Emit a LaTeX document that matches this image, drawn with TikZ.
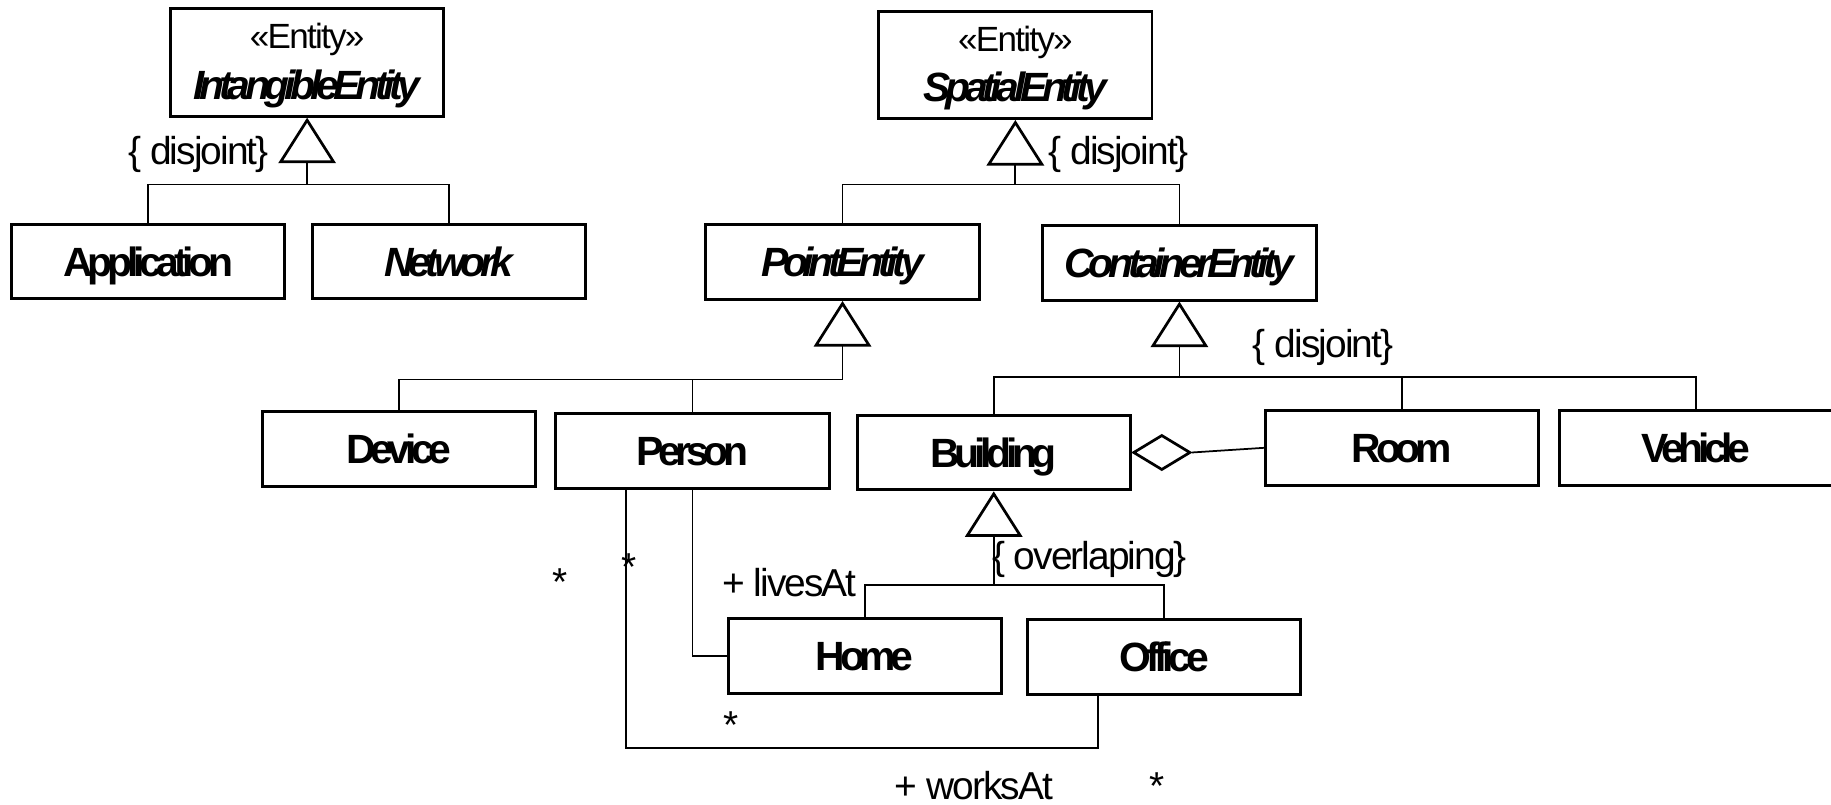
\documentclass[tikz,border=0pt]{standalone}
\usepackage{fontspec}
\setmainfont{Liberation Sans}[LetterSpace=-5]
\newfontfamily\classfont{Liberation Sans}[LetterSpace=-13]
\usetikzlibrary{arrows.meta,shapes.geometric,calc}

\begin{document}
\begin{tikzpicture}[x=0.6pt,y=-0.6pt,
  cls/.style={draw, line width=1.5pt, minimum width=140.4pt, minimum height=38.4pt,
    inner sep=0pt, text height=15pt, text depth=0pt,
    font=\classfont\fontsize{21}{23}\selectfont\bfseries},
  abs/.style={cls, font=\classfont\fontsize{21}{23}\selectfont\bfseries\itshape},
  ent/.style={draw, line width=1.5pt, minimum width=140.4pt, minimum height=55.2pt,
    inner sep=0pt, align=center, font=\fontsize{18}{26}\selectfont},
  link/.style={line width=0.9pt},
  gen/.style={link, -{Triangle[open, length=23.4pt, width=29.4pt, line width=1.4pt]}},
  lbl/.style={font=\fontsize{20}{22}\selectfont, inner sep=0pt, anchor=base},
]
\useasboundingbox (0,0) rectangle (1568,689);

% stereotyped root classes
\node[ent] (intang) at (263,53.5)
  {\rule{0pt}{16.5pt}«Entity»\\{\classfont\fontsize{21}{26}\selectfont\bfseries\itshape IntangibleEntity}};
\node[ent] (spatial) at (869.5,55.5)
  {\rule{0pt}{16.5pt}«Entity»\\{\classfont\fontsize{21}{26}\selectfont\bfseries\itshape SpatialEntity}};

% classes
\node[cls] (app)       at (127,224)      {Application};
\node[abs] (net)       at (384.5,224)    {Network};
\node[abs] (point)     at (721.5,224.5)  {PointEntity};
\node[abs] (container) at (1010,225)     {ContainerEntity};
\node[cls] (device)    at (341.5,384.5)  {Device};
\node[cls] (person)    at (593,386)      {Person};
\node[cls] (building)  at (851,387.5)    {Building};
\node[cls] (room)      at (1200.5,383.5) {Room};
\node[cls] (vehicle)   at (1452.5,383.5) {Vehicle};
\node[cls] (home)      at (740.5,561.5)  {Home};
\node[cls] (office)    at (997,562.5)    {Office};

% generalization junctions
\coordinate (j1) at (263,158);
\coordinate (j2) at (869.5,158);
\coordinate (j3) at (721.5,325);
\coordinate (j4) at (1010,323);
\coordinate (j5) at (851,501);

\draw[gen] (j1) -- (intang.south);
\draw[link] (app.north) |- (j1) -| (net.north);

\draw[gen] (j2) -- (spatial.south);
\draw[link] (point.north) |- (j2) -| (container.north);

\draw[gen] (j3) -- (point.south);
\draw[link] (device.north) |- (j3);
\draw[link] (person.north) -- (person.north |- j3);

\draw[gen] (j4) -- (container.south);
\draw[link] (building.north) |- (j4) -| (vehicle.north);
\draw[link] (room.north) -- (room.north |- j4);

\draw[gen] (j5) -- (building.south);
\draw[link] (home.north) |- (j5) -| (office.north);

% aggregation Building <>-- Room
\node[diamond, draw, line width=1.4pt, minimum width=29.4pt, minimum height=18pt,
  aspect=1.6, inner sep=0pt, anchor=west] (agg) at (building.east) {};
\draw[link] (agg.east) -- (room.west);

% associations
\draw[link] (person.south) |- (home.west);
\draw[link] ([xshift=-34.2pt]person.south) -- ++(0,221) -| ([xshift=-34.2pt]office.south);

% constraint and role labels
\node[lbl] (c1) at (170,141)  {\{ disjoint\}};
\node[lbl] (c2) at (958,141)  {\{ disjoint\}};
\node[lbl] (c3) at (1133,306) {\{ disjoint\}};
\node[lbl] (c4) at (933,488)  {\{ overlaping\}};
\node[lbl] (r1) at (676,511)  {+ livesAt};
\node[lbl] (r2) at (834,685)  {+ worksAt};
\node[lbl] (m1) at (480,510)  {*};
\node[lbl] (m2) at (539,497)  {*};
\node[lbl] (m3) at (626,632)  {*};
\node[lbl] (m4) at (991,685)  {*};
\end{tikzpicture}
\end{document}
